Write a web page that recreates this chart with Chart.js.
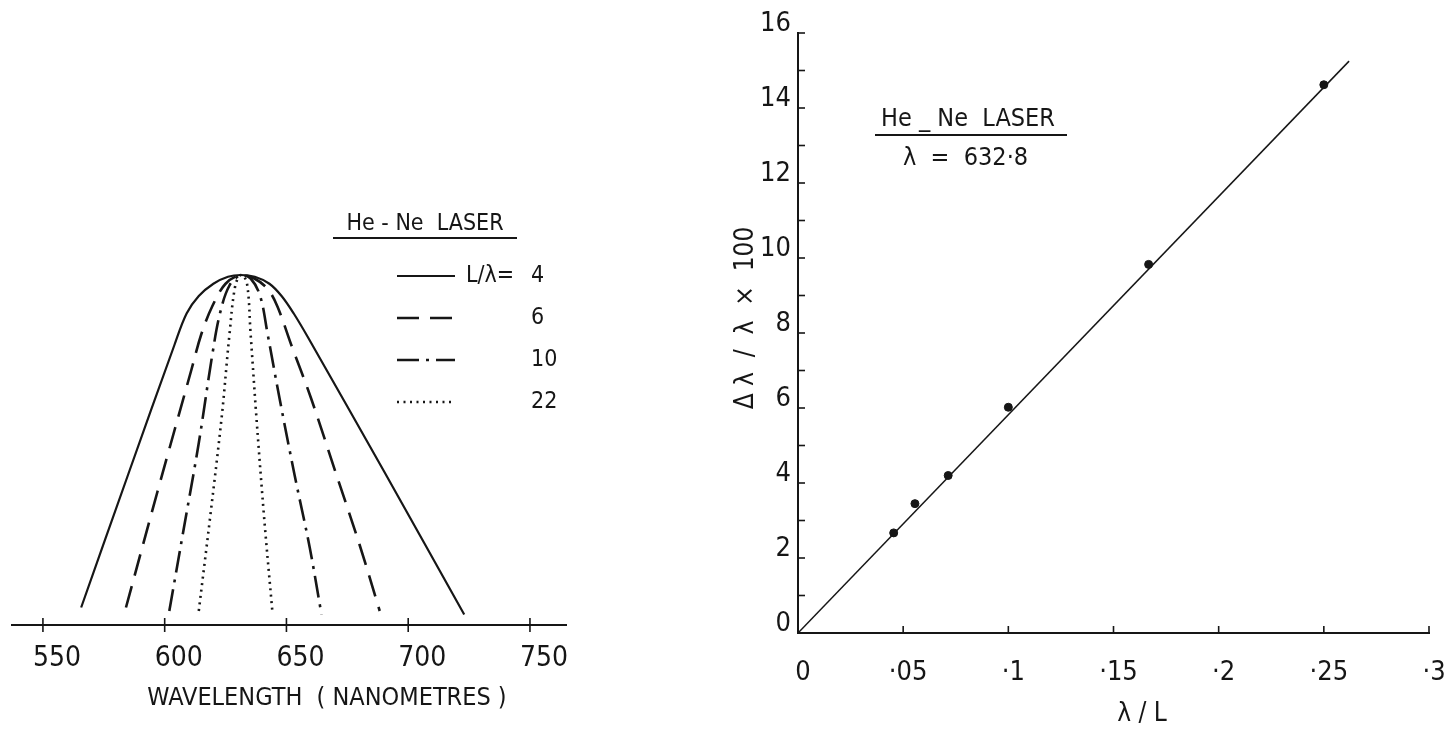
<!DOCTYPE html>
<html>
<head>
<meta charset="utf-8">
<title>He-Ne laser line width</title>
<script src="https://cdn.jsdelivr.net/npm/chart.js@4.4.1/dist/chart.umd.min.js"></script>
<style>
  html, body { margin: 0; padding: 0; background: #fff; }
  #wrap { position: relative; width: 1444px; height: 729px; overflow: hidden; }
  #profiles { position: absolute; left: 0; top: 0; }
  #spread { position: absolute; left: 720px; top: 0; }
</style>
</head>
<body>
<div id="wrap">
  <canvas id="profiles" width="600" height="729"></canvas>
  <canvas id="spread" width="724" height="729"></canvas>
</div>
<script>
// left panel: line profiles (nm, relative height)
const wl4  = [565.7, 585.0, 604.0, 609.0, 614.0, 620.0, 626.0, 631.3, 637.0, 643.0, 648.0, 653.0, 659.0, 690.0, 723.0];
const amp4 = [0.05, 0.43, 0.80, 0.89, 0.94, 0.975, 0.995, 1.0, 0.995, 0.975, 0.94, 0.89, 0.82, 0.44, 0.03];
const wl6  = [584.1, 597.0, 611.0, 615.0, 619.5, 625.0, 631.3, 636.8, 642.3, 646.3, 652.0, 660.0, 670.0, 680.0, 688.3];
const amp6 = [0.05, 0.38, 0.73, 0.83, 0.91, 0.975, 1.0, 0.99, 0.96, 0.91, 0.80, 0.65, 0.44, 0.23, 0.04];
const wl10  = [601.9, 607.7, 614.0, 619.5, 622.7, 626.6, 631.3, 635.3, 639.2, 642.3, 647.1, 653.3, 659.6, 664.4];
const amp10 = [0.04, 0.27, 0.52, 0.77, 0.89, 0.97, 1.0, 0.99, 0.94, 0.83, 0.65, 0.43, 0.22, 0.03];
const wl22  = [614.0, 618.7, 623.5, 626.6, 629.0, 631.3, 633.7, 635.3, 637.6, 640.8, 644.2];
const amp22 = [0.04, 0.31, 0.60, 0.83, 0.97, 1.0, 0.98, 0.83, 0.60, 0.31, 0.04];
const ratioLabels = ['4', '6', '10', '22'];
const wlTicks = [550, 600, 650, 700, 750];

// right panel: measured spread vs lambda/L
const ratioX  = [0.0455, 0.0556, 0.0714, 0.1, 0.1667, 0.25];
const spreadY = [2.67, 3.45, 4.2, 6.02, 9.83, 14.62];
const fitX = [0, 0.262];
const fitY = [0, 15.25];
const ratioTicks = [0, 0.05, 0.1, 0.15, 0.2, 0.25, 0.3];
const ratioTickLabels = ['0', '·05', '·1', '·15', '·2', '·25', '·3'];
const spreadTickLabels = [0, 2, 4, 6, 8, 10, 12, 14, 16];

const INK = '#161616';
const FONT = "'Liberation Sans Narrow', 'DejaVu Sans Condensed', 'Liberation Sans', sans-serif";
Chart.defaults.font.family = FONT;
Chart.defaults.color = INK;

function pts(xs, ys) {
    return xs.map((x, i) => ({ x: x, y: ys[i] }));
}

// tick marks, free text, underlines and the hand drawn legend
const inkPlugin = {
    id: 'ink',
    afterDraw(chart, args, opts) {
        const ctx = chart.ctx;
        ctx.save();
        ctx.strokeStyle = INK;
        ctx.fillStyle = INK;
        (opts.marks || []).forEach(m => {
            const s = chart.scales[m.scale];
            ctx.lineWidth = 1.6;
            s.ticks.forEach(t => {
                if (m.skipZero && t.value === 0) return;
                const p = s.getPixelForValue(t.value);
                ctx.beginPath();
                if (s.isHorizontal()) {
                    ctx.moveTo(p, s.top + m.from);
                    ctx.lineTo(p, s.top + m.to);
                } else {
                    ctx.moveTo(s.right + m.from, p);
                    ctx.lineTo(s.right + m.to, p);
                }
                ctx.stroke();
            });
        });
        (opts.rules || []).forEach(r => {
            ctx.lineWidth = 2.2;
            ctx.beginPath();
            ctx.moveTo(r.x0, r.y);
            ctx.lineTo(r.x1, r.y);
            ctx.stroke();
        });
        if (opts.legend) {
            const lg = opts.legend;
            chart.data.datasets.forEach((ds, i) => {
                ctx.save();
                ctx.lineWidth = ds.borderWidth;
                ctx.lineCap = ds.borderCapStyle || 'butt';
                ctx.setLineDash(ds.borderDash || []);
                ctx.beginPath();
                ctx.moveTo(lg.x0, lg.ys[i]);
                ctx.lineTo(lg.x1, lg.ys[i]);
                ctx.stroke();
                ctx.restore();
                ctx.font = lg.size + 'px ' + FONT;
                ctx.textBaseline = 'middle';
                ctx.textAlign = 'left';
                ctx.fillText(ratioLabels[i], lg.numX, lg.ys[i]);
            });
        }
        (opts.texts || []).forEach(t => {
            ctx.save();
            ctx.font = t.size + 'px ' + FONT;
            ctx.textAlign = t.align || 'center';
            ctx.textBaseline = 'middle';
            ctx.translate(t.x, t.y);
            if (t.rotate) ctx.rotate(t.rotate);
            ctx.fillText(t.text, 0, 0);
            ctx.restore();
        });
        ctx.restore();
    }
};

new Chart(document.getElementById('profiles'), {
    type: 'line',
    data: {
        datasets: [
            { label: 'L/λ = 4', data: pts(wl4, amp4), borderWidth: 2.2, borderDash: [] },
            { label: 'L/λ = 6', data: pts(wl6, amp6), borderWidth: 2.6, borderDash: [22, 11] },
            { label: 'L/λ = 10', data: pts(wl10, amp10), borderWidth: 2.6, borderDash: [22, 7, 3, 7] },
            { label: 'L/λ = 22', data: pts(wl22, amp22), borderWidth: 2.6, borderDash: [2, 4.5] }
        ].map(ds => Object.assign(ds, {
            borderColor: INK,
            pointRadius: 0,
            fill: false,
            tension: 0.35,
            clip: false
        }))
    },
    options: {
        responsive: false,
        animation: false,
        layout: { padding: { left: 12, right: 34, top: 275, bottom: 0 } },
        scales: {
            x: {
                type: 'linear',
                min: 537.3,
                max: 764.8,
                afterBuildTicks: s => { s.ticks = wlTicks.map(v => ({ value: v })); },
                afterFit: s => { s.height = 104; s.paddingLeft = 0; s.paddingRight = 0; },
                grid: { display: false, drawTicks: false },
                border: { display: true, color: INK, width: 2 },
                ticks: { font: { size: 28 }, padding: 17, labelOffset: 14, callback: v => String(v) }
            },
            y: { display: false, min: 0, max: 1 }
        },
        plugins: {
            legend: { display: false },
            tooltip: { enabled: false },
            ink: {
                marks: [{ scale: 'x', from: -7, to: 7 }],
                rules: [{ x0: 333, x1: 517, y: 238 }],
                legend: { x0: 397, x1: 455, ys: [276, 318, 360, 402], numX: 531, size: 23 },
                texts: [
                    { text: 'He - Ne  LASER', x: 425, y: 224, size: 23 },
                    { text: 'L/λ=', x: 466, y: 276, size: 23, align: 'left' },
                    { text: 'WAVELENGTH  ( NANOMETRES )', x: 327, y: 698, size: 25 }
                ]
            }
        }
    },
    plugins: [inkPlugin]
});

new Chart(document.getElementById('spread'), {
    type: 'scatter',
    data: {
        datasets: [
            {
                label: 'measured',
                data: pts(ratioX, spreadY),
                backgroundColor: INK,
                borderColor: INK,
                pointRadius: 4,
                pointHoverRadius: 4
            },
            {
                label: 'fit',
                data: pts(fitX, fitY),
                showLine: true,
                borderColor: INK,
                borderWidth: 1.5,
                pointRadius: 0
            }
        ]
    },
    options: {
        responsive: false,
        animation: false,
        layout: { padding: { left: 0, right: 15, top: 33, bottom: 0 } },
        scales: {
            x: {
                type: 'linear',
                min: 0,
                max: 0.3,
                afterBuildTicks: s => { s.ticks = ratioTicks.map(v => ({ value: v })); },
                afterFit: s => { s.height = 96; s.paddingLeft = 0; s.paddingRight = 0; },
                grid: { display: false, drawTicks: false },
                border: { display: true, color: INK, width: 2 },
                ticks: {
                    font: { size: 27 },
                    padding: 24,
                    labelOffset: 5,
                    callback: (v, i) => ratioTickLabels[i]
                }
            },
            y: {
                min: 0,
                max: 16,
                afterFit: s => { s.width = 78; s.paddingTop = 0; s.paddingBottom = 0; },
                ticks: {
                    stepSize: 1,
                    font: { size: 27 },
                    padding: 7,
                    labelOffset: -9,
                    callback: v => spreadTickLabels.includes(v) ? String(v) : ''
                },
                grid: { display: false, drawTicks: false },
                border: { display: true, color: INK, width: 2 }
            }
        },
        plugins: {
            legend: { display: false },
            tooltip: { enabled: false },
            ink: {
                marks: [
                    { scale: 'x', from: -7, to: 0, skipZero: true },
                    { scale: 'y', from: 0, to: 7, skipZero: true }
                ],
                rules: [{ x0: 155, x1: 347, y: 135 }],
                texts: [
                    { text: 'He _ Ne  LASER', x: 248, y: 119, size: 25 },
                    { text: 'λ  =  632·8', x: 183, y: 158, size: 25, align: 'left' },
                    { text: 'λ / L', x: 422, y: 714, size: 26 },
                    { text: 'Δ λ  /  λ  ×  100', x: 26, y: 318, size: 26, rotate: -Math.PI / 2 }
                ]
            }
        }
    },
    plugins: [inkPlugin]
});
</script>
</body>
</html>
